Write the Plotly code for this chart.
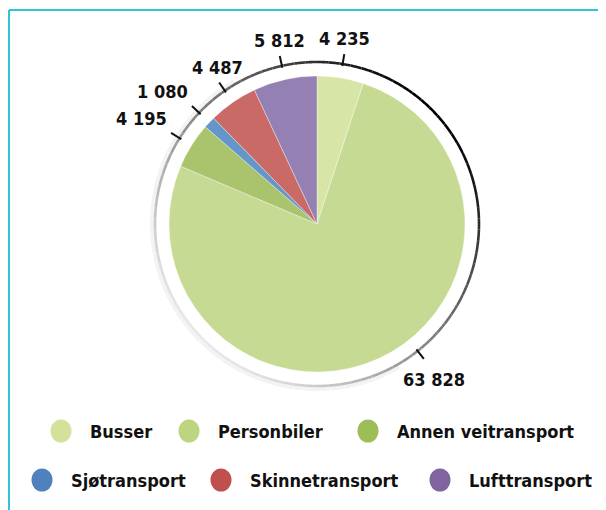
import math
import plotly.graph_objects as go

# ---- data ----
categories = ["Busser", "Personbiler", "Annen veitransport",
              "Sjøtransport", "Skinnetransport", "Lufttransport"]
values = [4235, 63828, 4195, 1080, 4487, 5812]
value_labels = [f"{v:,}".replace(",", " ") for v in values]

# ---- style ----
slice_colors = ["#d7e5a7", "#c6da94", "#a9c46c", "#6596c9", "#c96a67", "#9580b4"]
legend_colors = ["#d2e29b", "#bcd57e", "#9dbd56", "#4f81bd", "#c0504d", "#8064a2"]
label_angle_shift = [0, -14, 0, 0, 0, 0]  # leader-tick placement tweak (degrees)
PAGE_W, PAGE_H = 606, 510
OFF = 8  # default body margin of the html page
W, H = PAGE_W - OFF, PAGE_H - OFF
CX, CY, R = 317, 224, 148   # page coordinates
RING_R = 162
FONT = "DejaVu Sans Condensed"

fig = go.Figure()

fig.add_trace(go.Pie(
    values=values, labels=categories, sort=False, direction="clockwise",
    rotation=0, textinfo="none", showlegend=False, hoverinfo="label+value",
    marker=dict(colors=slice_colors, line=dict(color="rgba(255,255,255,0.6)", width=0.6)),
    domain=dict(x=[(CX - R - OFF) / W, (CX + R - OFF) / W],
                y=[(PAGE_H - CY - R) / H, (PAGE_H - CY + R) / H]),
))

shapes = []
annotations = []

# frame
shapes.append(dict(type="line", xref="x", yref="y", x0=9, y0=10, x1=PAGE_W + 5, y1=10,
                   line=dict(color="#33c4d1", width=2)))
shapes.append(dict(type="line", xref="x", yref="y", x0=9, y0=10, x1=9, y1=PAGE_H + 5,
                   line=dict(color="#33c4d1", width=2)))


def pt(theta_deg, r):
    t = math.radians(theta_deg)
    return CX + r * math.sin(t), CY - r * math.cos(t)


# soft shadow on lower-left
for a0 in range(150, 330, 5):
    pts = [pt(a0 + k, RING_R + 3) for k in range(0, 6)]
    d = "M " + " L ".join(f"{x:.2f},{y:.2f}" for x, y in pts)
    shapes.append(dict(type="path", xref="x", yref="y", path=d,
                       line=dict(color="#f3f3f3", width=4)))

# ring with shading
step = 4
for a0 in range(0, 360, step):
    mid = a0 + step / 2
    t = (1 + math.cos(math.radians(mid - 45))) / 2
    lvl = int(round(232 * (1 - t) ** 0.85))
    pts = [pt(a0 + k * 0.5, RING_R) for k in range(0, int(step / 0.5) + 1)]
    d = "M " + " L ".join(f"{x:.2f},{y:.2f}" for x, y in pts)
    shapes.append(dict(type="path", xref="x", yref="y", path=d,
                       line=dict(color=f"rgb({lvl},{lvl},{lvl})", width=2.6)))

# value labels with leader ticks
total = sum(values)
cum = 0
for v, lab, shift in zip(values, value_labels, label_angle_shift):
    theta = (cum + v / 2) / total * 360 + shift
    cum += v
    x0, y0 = pt(theta, RING_R - 2)
    x1, y1 = pt(theta, RING_R + 10)
    shapes.append(dict(type="line", xref="x", yref="y", x0=x0, y0=y0, x1=x1, y1=y1,
                       line=dict(color="#111111", width=2)))
    px, py = pt(theta, RING_R + 13)
    s, c = math.sin(math.radians(theta)), math.cos(math.radians(theta))
    xa = "center" if abs(s) < 0.65 else ("left" if s > 0 else "right")
    ya = "bottom" if c > 0.3 else ("top" if c < -0.3 else "middle")
    annotations.append(dict(x=px, y=py, xref="x", yref="y", text=f"<b>{lab}</b>",
                            showarrow=False, xanchor=xa, yanchor=ya,
                            xshift=8 if ya == "top" else 0,
                            yshift=-6 if ya == "top" else 0,
                            font=dict(family=FONT, size=18, color="#111111")))

# legend (two rows)
legend_rows = [[0, 1, 2], [3, 4, 5]]
legend_marker_x = [61, 189, 368, 42, 221, 440]
legend_y = [431, 480]
for row_i, row in enumerate(legend_rows):
    for i in row:
        mx, my = legend_marker_x[i], legend_y[row_i]
        shapes.append(dict(type="circle", xref="x", yref="y",
                           x0=mx - 10.5, x1=mx + 10.5, y0=my - 11.5, y1=my + 11.5,
                           fillcolor=legend_colors[i], line=dict(width=0)))
        annotations.append(dict(x=mx + 27, y=my, xref="x", yref="y",
                                text=f"<b>{categories[i]}</b>", showarrow=False,
                                xanchor="left", yanchor="middle",
                                font=dict(family=FONT, size=18, color="#111111")))

fig.update_layout(
    width=W, height=H, margin=dict(l=0, r=0, t=0, b=0),
    paper_bgcolor="white", plot_bgcolor="white",
    xaxis=dict(range=[OFF, PAGE_W], visible=False, fixedrange=True),
    yaxis=dict(range=[PAGE_H, OFF], visible=False, fixedrange=True),
    shapes=shapes, annotations=annotations, showlegend=False,
)

fig.write_html("out.html")
